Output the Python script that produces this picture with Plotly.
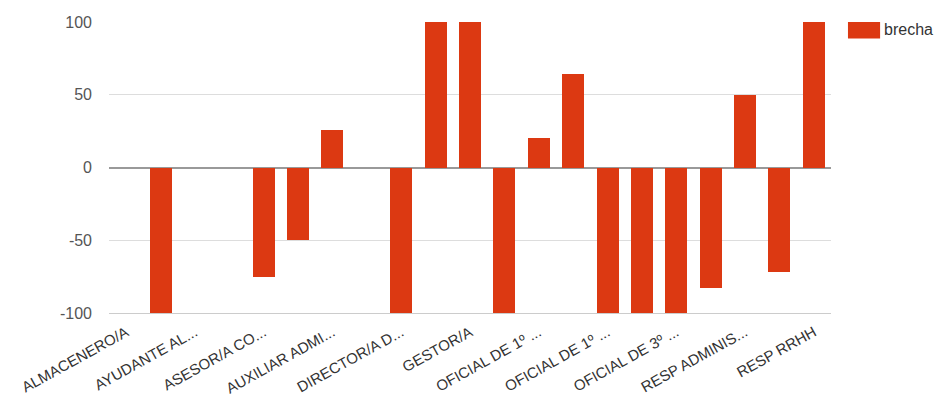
import plotly.graph_objects as go

# Job positions (full names; only every other one is labelled on the axis)
categorias = [
    "ALMACENERO/A",
    "AYUDANTE ALMACÉN",
    "AYUDANTE ALBAÑIL",
    "ADMINISTRATIVO/A",
    "ASESOR/A COMERCIAL",
    "ASESOR/A CONTABLE",
    "AUXILIAR ADMINISTRATIVO/A",
    "AUXILIAR CONTABLE",
    "DIRECTOR/A DE ÁREA",
    "DIRECTOR/A GENERAL",
    "GESTOR/A",
    "JEFE/A DE EQUIPO",
    "OFICIAL DE 1º ADMINISTRATIVO",
    "OFICIAL DE 2º ADMINISTRATIVO",
    "OFICIAL DE 1º TÉCNICO",
    "OFICIAL DE 2º TÉCNICO",
    "OFICIAL DE 3º ADMINISTRATIVO",
    "RESP ALMACÉN",
    "RESP ADMINISTRACIÓN",
    "RESP COMERCIAL",
    "RESP RRHH",
]
brecha = [0, -100, 0, 0, -75, -50, 26, 0, -100, 100, 100, -100, 20, 64,
          -100, -100, -100, -83, 50, -72, 100]

# Axis tick labels (shown on every second category)
tick_idx = [0, 2, 4, 6, 8, 10, 12, 14, 16, 18, 20]
tick_text = ["ALMACENERO/A", "AYUDANTE AL...", "ASESOR/A CO...", "AUXILIAR ADMI...",
             "DIRECTOR/A D...", "GESTOR/A", "OFICIAL DE 1º ...", "OFICIAL DE 1º ...",
             "OFICIAL DE 3º ...", "RESP ADMINIS...", "RESP RRHH"]
y_ticks = [-100, -50, 0, 50, 100]
y_tick_text = ["-100", "-50", "0", "50", "100"]

SERIE = "brecha"
ROJO = "#DC3912"

x = list(range(len(categorias)))

fig = go.Figure()
fig.add_trace(go.Bar(
    x=x, y=brecha, name=SERIE, marker_color=ROJO,
    marker_line_width=0, width=0.64,
    customdata=categorias, hovertemplate="%{customdata}<br>brecha: %{y}<extra></extra>",
    showlegend=False,
))

font = "Liberation Sans, Arial, sans-serif"

fig.update_layout(
    width=939, height=397,
    margin=dict(l=109, r=108, t=22, b=84),
    paper_bgcolor="white", plot_bgcolor="white",
    font=dict(family=font, size=16, color="#444"),
    bargap=0,
    xaxis=dict(
        range=[-0.5, len(categorias) - 0.5],
        tickmode="array", tickvals=tick_idx, ticktext=tick_text,
        tickangle=-29, showgrid=False, zeroline=False, ticks="",
        showline=True, linecolor="#cccccc", linewidth=1,
        tickfont=dict(size=15, color="#333"), ticklabelstandoff=4,
        automargin=False, fixedrange=True,
    ),
    yaxis=dict(
        range=[-100, 100], tickmode="array", tickvals=y_ticks, ticktext=y_tick_text,
        gridcolor="#dddddd", gridwidth=1,
        zeroline=True, zerolinecolor="#999", zerolinewidth=1.5,
        tickfont=dict(size=16, color="#555"), ticks="", ticklabelstandoff=16,
        automargin=False, fixedrange=True,
    ),
)

# Legend drawn as swatch + label to the right of the plot
fig.add_shape(type="rect", xref="paper", yref="paper",
              x0=1.0235, x1=1.068, y0=0.943, y1=1.0, fillcolor=ROJO,
              line=dict(width=0))
fig.add_annotation(text=SERIE, xref="paper", yref="paper", x=1.071, y=0.974,
                   xanchor="left", yanchor="middle", showarrow=False,
                   font=dict(family=font, size=16, color="#333"))

fig.write_html("out.html")
